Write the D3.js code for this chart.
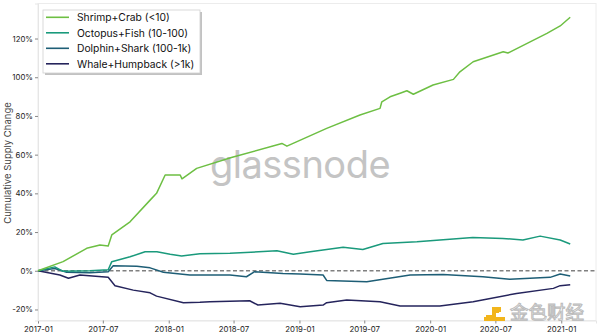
<!DOCTYPE html>
<html><head><meta charset="utf-8">
<script src="https://cdn.jsdelivr.net/npm/d3@7"></script>
<style>body{margin:0;background:#fff}svg{display:block}</style>
</head><body><svg id="c" width="600" height="336"></svg>
<script>
const seriesNames = ["Shrimp+Crab (<10)","Octopus+Fish (10-100)","Dolphin+Shark (100-1k)","Whale+Humpback (>1k)"];
const shrimpDates = ["2017-01-01","2017-03-12","2017-05-17","2017-06-23","2017-07-16","2017-07-26","2017-09-15","2017-11-10","2017-11-28","2017-12-22","2018-02-02","2018-02-07","2018-03-20","2018-06-25","2018-11-13","2018-11-27","2019-03-18","2019-06-19","2019-08-14","2019-08-19","2019-09-11","2019-10-09","2019-10-28","2019-11-15","2020-01-09","2020-03-06","2020-03-24","2020-04-30","2020-07-23","2020-08-05","2020-10-06","2020-11-22","2020-12-29","2021-01-26"];
const shrimpValues = [0,4.7,11.6,13.3,12.8,18.5,25.3,36.5,40,49.5,49.5,47.5,52.9,58.5,65.8,64.4,73.6,80.5,83.9,87.3,89.9,91.7,93,91.2,96,98.9,102.8,108,113.2,112.5,118.3,122.7,126.5,131];
const octopusDates = ["2017-01-01","2017-02-17","2017-03-12","2017-05-26","2017-07-16","2017-07-26","2017-09-15","2017-10-27","2017-11-29","2018-01-05","2018-02-06","2018-03-29","2018-06-21","2018-10-30","2018-12-15","2019-01-31","2019-05-03","2019-06-27","2019-08-22","2019-11-25","2020-04-29","2020-07-22","2020-09-16","2020-11-03","2020-12-29","2021-01-26"];
const octopusValues = [0,2.0,-0.3,0,0.5,4.7,7.2,9.8,9.8,8.5,7.6,8.8,9,10.3,8.5,9.8,12.1,11,14.1,15,17.2,16.7,15.9,17.9,15.9,13.8];
const dolphinDates = ["2017-01-01","2017-02-17","2017-03-22","2017-05-26","2017-07-16","2017-07-30","2017-10-04","2017-11-10","2017-12-17","2018-03-01","2018-06-21","2018-08-06","2018-08-29","2018-11-16","2019-01-03","2019-03-08","2019-03-18","2019-07-08","2019-11-06","2020-02-06","2020-05-27","2020-08-10","2020-12-01","2020-12-29","2021-01-26"];
const dolphinValues = [0,1.2,-0.8,-1.0,-0.5,2.6,2.3,1.5,-0.8,-2.2,-2.2,-3.1,-0.5,-1.4,-1.7,-2.2,-5.0,-5.7,-2.2,-1.9,-3.1,-4.4,-3.4,-1.7,-2.7];
const whaleDates = ["2017-01-01","2017-03-03","2017-03-27","2017-04-28","2017-07-16","2017-08-04","2017-09-24","2017-11-10","2017-11-28","2018-02-11","2018-03-29","2018-04-26","2018-08-15","2018-09-07","2018-11-08","2019-01-03","2019-03-08","2019-03-18","2019-05-13","2019-08-14","2019-10-09","2020-01-28","2020-04-30","2020-08-29","2020-12-10","2020-12-29","2021-01-26"];
const whaleValues = [0,-2.2,-3.9,-2.2,-3.4,-7.7,-10,-11.4,-13.1,-16.5,-16.3,-16,-15.5,-17.7,-16.8,-18.6,-17.7,-16.5,-15.1,-16,-18.2,-18.2,-16,-11.7,-9.1,-7.7,-7.2];
const yTicks = [-20,0,20,40,60,80,100,120];
const colors = ["#6dbf43","#1a9a7c","#1e5e76","#25245c"];

const parse = d3.timeParse("%Y-%m-%d");
const series = [
  [shrimpDates, shrimpValues],[octopusDates, octopusValues],[dolphinDates, dolphinValues],[whaleDates, whaleValues]
].map(([ds,vs],i)=>({name:seriesNames[i],color:colors[i],pts:ds.map((d,j)=>({date:parse(d),v:vs[j]}))}));

const svg = d3.select("#c");
const L=38,R=596,T=3.5,B=320.5;
const x = d3.scaleTime().domain([parse("2017-01-01"),parse("2021-04-08")]).range([L,R]);
const y = d3.scaleLinear().domain([-25.7,138.1]).range([B,T]);

// frame
svg.append("rect").attr("x",L).attr("y",T).attr("width",R-L).attr("height",B-T)
  .attr("fill","#fff").attr("stroke","#ececec").attr("stroke-width",1);

// watermark
svg.append("text").attr("x",300).attr("y",178).attr("text-anchor","middle")
  .attr("font-family","Inter, 'Noto Sans', sans-serif").attr("font-size",38).attr("font-weight",400)
  .attr("fill","#c4c4c4").attr("letter-spacing",-0.5).text("glassnode");

// axes
const gx = svg.append("g").attr("transform",`translate(0,${B})`)
  .call(d3.axisBottom(x).ticks(d3.timeMonth.every(6)).tickFormat(d3.timeFormat("%Y-%m")).tickSize(3).tickPadding(3));
const gy = svg.append("g").attr("transform",`translate(${L},0)`)
  .call(d3.axisLeft(y).tickValues(yTicks).tickFormat(d=>d+"%").tickSize(3).tickPadding(2));
[gx,gy].forEach(g=>{
  g.select(".domain").attr("stroke","#e6e6e6");
  g.selectAll(".tick line").attr("stroke","#888");
  g.selectAll("text").attr("font-family","Inter, 'Noto Sans', sans-serif").attr("font-size",7.8).attr("fill","#222");
});

// zero line
svg.append("line").attr("x1",L).attr("x2",R).attr("y1",y(0)).attr("y2",y(0))
  .attr("stroke","#808080").attr("stroke-width",1.3).attr("stroke-dasharray","4,2.5");

const line = d3.line().x(d=>x(d.date)).y(d=>y(d.v));
series.slice().reverse().forEach(s=>{
  svg.append("path").datum(s.pts).attr("d",line).attr("fill","none")
    .attr("stroke",s.color).attr("stroke-width",1.5).attr("stroke-linejoin","round");
});

// y label
svg.append("text").attr("transform","translate(11,163) rotate(-90)").attr("text-anchor","middle")
  .attr("font-family","Inter, 'Noto Sans', sans-serif").attr("font-size",9.5).attr("fill","#444")
  .text("Cumulative Supply Change");

// legend
const lg = svg.append("g");
lg.append("rect").attr("x",45).attr("y",12).attr("width",157).attr("height",63).attr("fill","#999").attr("opacity",0.6);
lg.append("rect").attr("x",43).attr("y",10).attr("width",157).attr("height",63).attr("fill","#fff").attr("stroke","#d0d0d0").attr("stroke-width",0.8);
series.forEach((s,i)=>{
  const yy = 17.3 + i*15.5;
  lg.append("line").attr("x1",46).attr("x2",69).attr("y1",yy).attr("y2",yy).attr("stroke",s.color).attr("stroke-width",1.6);
  lg.append("text").attr("x",77).attr("y",yy+3.7).attr("font-family","Inter, 'Noto Sans', sans-serif")
    .attr("font-size",10.3).attr("fill","#111").text(s.name);
});

// site watermark
const wm = svg.append("g");
wm.append("path").attr("d","M486,315 h6 v-8 h7 v6 h-3 v6 h-10 z").attr("fill","#f2b51c");
wm.append("rect").attr("x",496).attr("y",307).attr("width",5).attr("height",5).attr("fill","#f2b51c");
wm.append("rect").attr("x",484).attr("y",317).attr("width",21).attr("height",4).attr("fill","#f2b51c");
wm.append("text").attr("x",510).attr("y",319).attr("font-family","'Noto Sans CJK SC', sans-serif")
  .attr("font-size",18.5).attr("fill","#fff").attr("stroke","#b0b0b0").attr("stroke-width",1).attr("opacity",0.85).text("金色财经");
</script></body></html>
